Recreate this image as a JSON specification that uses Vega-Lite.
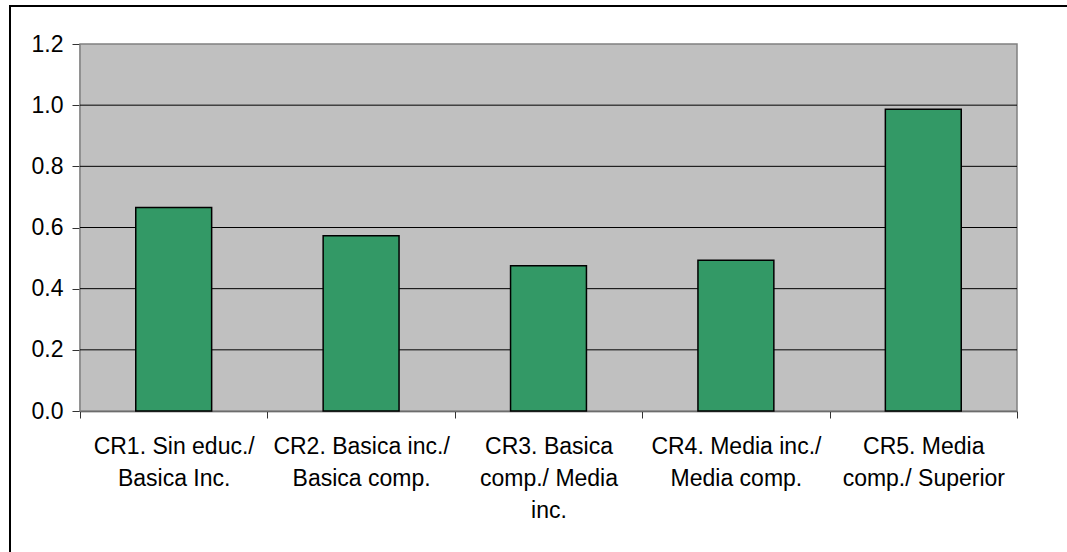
{
  "$schema": "https://vega.github.io/schema/vega-lite/v6.json",
  "autosize": "none",
  "width": 1200,
  "height": 700,
  "padding": {"left": 10, "top": 6, "right": -143, "bottom": -154},
  "background": "white",
  "config": {
    "view": {"stroke": "black", "strokeWidth": 2},
    "font": "Liberation Sans"
  },
  "resolve": {"scale": {"x": "independent"}},
  "layer": [
    {
      "data": {"values": [{"desde": 0, "hasta": 1.2}]},
      "mark": {"type": "rect", "fill": "#C0C0C0", "stroke": "#808080", "strokeWidth": 1.5},
      "encoding": {
        "x": {"datum": 0, "type": "quantitative", "scale": {"domain": [0, 1], "range": [70, 1007]}, "axis": null},
        "x2": {"datum": 1},
        "y": {
          "field": "desde", "type": "quantitative",
          "scale": {"domain": [0, 1.2], "range": [405, 38]},
          "axis": {
            "orient": "left", "offset": -70, "title": null,
            "values": [0, 0.2, 0.4, 0.6, 0.8, 1.0, 1.2], "format": ".1f",
            "grid": false, "tickSize": 8, "tickColor": "#333333",
            "domainColor": "#333333", "domainWidth": 1.5,
            "labelPadding": 9, "labelFont": "Liberation Sans", "labelFontSize": 23, "labelColor": "black"
          }
        },
        "y2": {"field": "hasta"}
      }
    },
    {
      "data": {"values": [{"v": 0.2}, {"v": 0.4}, {"v": 0.6}, {"v": 0.8}, {"v": 1.0}]},
      "mark": {"type": "rule", "color": "black", "strokeWidth": 1},
      "encoding": {
        "x": {"datum": 0, "type": "quantitative", "scale": {"domain": [0, 1], "range": [70, 1007]}, "axis": null},
        "x2": {"datum": 1},
        "y": {
          "field": "v", "type": "quantitative",
          "scale": {"domain": [0, 1.2], "range": [405, 38]},
          "axis": {
            "orient": "left", "offset": -70, "title": null,
            "values": [0, 0.2, 0.4, 0.6, 0.8, 1.0, 1.2], "format": ".1f",
            "grid": false, "tickSize": 8, "tickColor": "#333333",
            "domainColor": "#333333", "domainWidth": 1.5,
            "labelPadding": 9, "labelFont": "Liberation Sans", "labelFontSize": 23, "labelColor": "black"
          }
        }
      }
    },
    {
      "data": {
        "values": [
          {"grupo": "CR1. Sin educ./\nBasica Inc.", "valor": 0.665},
          {"grupo": "CR2. Basica inc./\nBasica comp.", "valor": 0.573},
          {"grupo": "CR3. Basica\ncomp./ Media\ninc.", "valor": 0.475},
          {"grupo": "CR4. Media inc./\nMedia comp.", "valor": 0.493},
          {"grupo": "CR5. Media\ncomp./ Superior", "valor": 0.987}
        ]
      },
      "mark": {"type": "bar", "fill": "#339966", "stroke": "black", "strokeWidth": 1.5, "width": {"band": 0.405}},
      "encoding": {
        "x": {
          "field": "grupo", "type": "nominal",
          "scale": {"range": [70, 1007], "paddingInner": 0, "paddingOuter": 0},
          "axis": {
            "orient": "bottom", "offset": -295, "title": null,
            "tickBand": "extent", "tickSize": 7, "tickColor": "#333333",
            "domainColor": "#333333", "domainWidth": 1.5,
            "labelAngle": 0, "labelOverlap": false, "labelLimit": 400,
            "labelExpr": "split(datum.label, '\\n')",
            "labelLineHeight": 32, "labelPadding": 17,
            "labelFont": "Liberation Sans", "labelFontSize": 23, "labelColor": "black"
          }
        },
        "y": {
          "field": "valor", "type": "quantitative",
          "scale": {"domain": [0, 1.2], "range": [405, 38]},
          "axis": {
            "orient": "left", "offset": -70, "title": null,
            "values": [0, 0.2, 0.4, 0.6, 0.8, 1.0, 1.2], "format": ".1f",
            "grid": false, "tickSize": 8, "tickColor": "#333333",
            "domainColor": "#333333", "domainWidth": 1.5,
            "labelPadding": 9, "labelFont": "Liberation Sans", "labelFontSize": 23, "labelColor": "black"
          }
        }
      }
    }
  ]
}
